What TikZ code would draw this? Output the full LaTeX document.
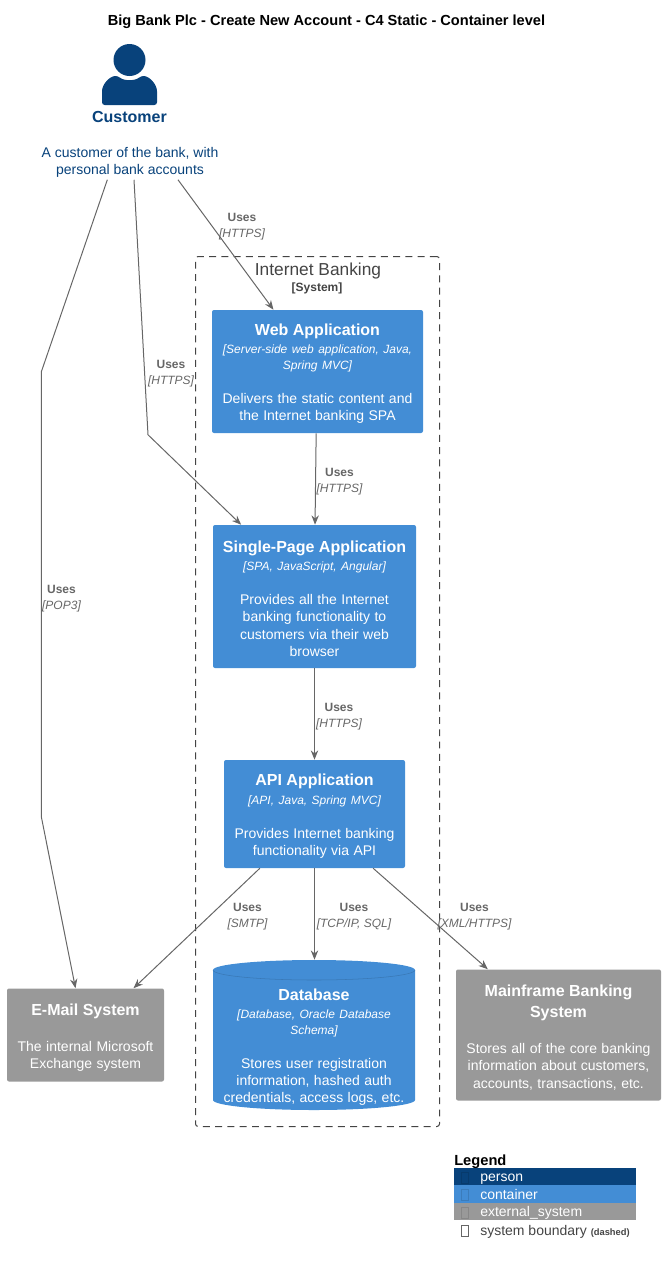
\documentclass[tikz,border=0pt]{standalone}
\usepackage{fontspec}
\setmainfont{Liberation Sans}
\usepackage{tikz}
\usetikzlibrary{positioning,arrows.meta}
\definecolor{personblue}{HTML}{08427B}
\definecolor{containerblue}{HTML}{438DD5}
\definecolor{extgray}{HTML}{999999}
\definecolor{linegray}{HTML}{666666}
\definecolor{boundgray}{HTML}{444444}
\newcommand{\boxtext}[3]{{\fontsize{12}{15}\selectfont\bfseries\rule{0pt}{12.1pt}#1\par}\vspace{2pt}{\fontsize{9}{11.6}\selectfont\itshape #2\par}\vspace{12.5pt}{\fontsize{10.5}{13}\selectfont #3\par}}
\newcommand{\exttext}[2]{{\fontsize{12}{15.5}\selectfont\bfseries\rule{0pt}{12.4pt}#1\par}\vspace{14pt}{\fontsize{10.5}{13}\selectfont #2\par}}
\tikzset{
  boxnode/.style={rectangle,rounded corners=1.5pt,text=white,align=center,inner sep=0pt},
  containernode/.style={boxnode,fill=containerblue},
  extnode/.style={boxnode,fill=extgray},
  uses/.style={-{Stealth[length=7pt,width=5.5pt]},draw=linegray,line width=0.75pt},
  useslabel/.style={text=linegray,align=center,inner sep=0pt,fill=none},
  legendrow/.style={anchor=base west,inner sep=0pt,fill=none,font=\fontsize{10.5}{12}\selectfont}
}
\newcommand{\rellabel}[1]{{\fontsize{9}{10.6}\selectfont\bfseries Uses}\\{\fontsize{9}{10.6}\selectfont\itshape [#1]}}
\begin{document}
\begin{tikzpicture}[x=0.75pt,y=-0.75pt]
  \useasboundingbox (0,0) rectangle (666,1264);
  \node[inner sep=0pt,font=\fontsize{10.95}{12}\selectfont\bfseries](title) at (326.5,22){Big Bank Plc - Create New Account - C4 Static - Container level};

  \fill[personblue] (129.5,60) circle (16);
  \fill[personblue,rounded corners=2pt] (102,105) -- (102,94) .. controls (102,84) and (110,76) .. (118,76) .. controls (124,81) and (135,81) .. (141,76) .. controls (149,76) and (157,84) .. (157,94) -- (157,105) -- cycle;
  \node[inner sep=0pt,text=personblue,font=\fontsize{12}{14}\selectfont\bfseries](customer) at (129.5,117){Customer};
  \node[inner sep=0pt,text=personblue,align=center,minimum height=34*0.75pt,font=\fontsize{10.5}{13.2}\selectfont](customerdesc) at (130,162.5){A customer of the bank, with\\personal bank accounts};

  \node[draw=boundgray,dash pattern=on 5.2pt off 4pt,line width=0.75pt,rounded corners=2pt,minimum width=244*0.75pt,minimum height=870*0.75pt,inner sep=0pt](boundary) at (317.5,691.5){};
  \node[inner sep=0pt,text=boundgray,font=\fontsize{13}{15}\selectfont](boundaryname) at (318,271){Internet Banking};
  \node[inner sep=0pt,text=boundgray,font=\fontsize{9}{11}\selectfont\bfseries](boundarytype) at (317,288){[System]};

  \node[containernode,text width=211*0.75pt,minimum height=123*0.75pt](web) at (317.5,371.5){\boxtext{Web Application}{[Server-side web application, Java,\\Spring MVC]}{Delivers the static content and\\the Internet banking SPA}};
  \node[containernode,text width=203*0.75pt,minimum height=143*0.75pt](spa) at (314.5,596.5){\boxtext{Single-Page Application}{[SPA, JavaScript, Angular]}{Provides all the Internet\\banking functionality to\\customers via their web\\browser}};
  \node[containernode,text width=181*0.75pt,minimum height=108*0.75pt](api) at (314.5,814){\boxtext{API Application}{[API, Java, Spring MVC]}{Provides Internet banking\\functionality via API}};

  \fill[containerblue] (213,970) arc[start angle=180,end angle=360,x radius=101,y radius=10] -- (415,1100) arc[start angle=0,end angle=180,x radius=101,y radius=10] -- cycle;
  \draw[containerblue!85!black,line width=0.4pt] (213,970) arc[start angle=180,end angle=0,x radius=101,y radius=10];
  \node[inner sep=0pt,minimum width=202*0.75pt,minimum height=150*0.75pt](db) at (314.5,1035){};
  \node[align=center,text=white,inner sep=0pt,text width=202*0.75pt](dbtext) at (314,1045){\boxtext{Database}{[Database, Oracle Database\\Schema]}{Stores user registration\\information, hashed auth\\credentials, access logs, etc.}};

  \node[extnode,text width=157*0.75pt,minimum height=93*0.75pt](mail) at (85.5,1035){\exttext{E-Mail System}{The internal Microsoft\\Exchange system}};
  \node[extnode,text width=205*0.75pt,minimum height=131*0.75pt](mainframe) at (558.5,1035){\exttext{Mainframe Banking\\System}{Stores all of the core banking\\information about customers,\\accounts, transactions, etc.}};

  \draw[uses] ([xshift=-17pt]customerdesc.south) -- ++(-66,192) -- ++(0,445) -- ([xshift=-7.5pt]mail.north);
  \draw[uses] ([xshift=3pt]customerdesc.south) -- ++(14,255) -- ([xshift=-55pt]spa.north);
  \draw[uses] ([xshift=36pt]customerdesc.south) -- ([xshift=-33pt]web.north);
  \draw[uses] ([xshift=-1pt]web.south) -- ([xshift=0.4pt]spa.north);
  \draw[uses] (spa.south) -- (api.north);
  \draw[uses] ([xshift=-41pt]api.south) -- ([xshift=36pt]mail.north);
  \draw[uses] (api.south) -- (db.north);
  \draw[uses] ([xshift=44pt]api.south) -- ([xshift=-53pt]mainframe.north);

  \node[useslabel](l1) at (242,227){\rellabel{HTTPS}};
  \node[useslabel](l2) at (171,374){\rellabel{HTTPS}};
  \node[useslabel](l3) at (61.5,599){\rellabel{POP3}};
  \node[useslabel](l4) at (339.5,482){\rellabel{HTTPS}};
  \node[useslabel](l5) at (339,717){\rellabel{HTTPS}};
  \node[useslabel](l6) at (247.5,917){\rellabel{SMTP}};
  \node[useslabel](l7) at (354,917){\rellabel{TCP/IP, SQL}};
  \node[useslabel](l8) at (474.5,917){\rellabel{XML/HTTPS}};

  \node[inner sep=0pt,anchor=base west,font=\fontsize{11}{12}\selectfont\bfseries](legend) at (454,1165){Legend};
  \foreach \rowcol/\rowname/\rowy/\rowtext in {personblue/person/1176.5/person,containerblue/container/1194/container,extgray/external/1211.6/external\_system}{
    \fill[\rowcol] (454,\rowy-8.75) rectangle (636,\rowy+8.75);
    \draw[\rowcol!88!black,line width=0.5pt] (461,\rowy-4.2) rectangle (468,\rowy+6.8);
    \node[legendrow,text=white](\rowname) at (480,\rowy+5.2){\rowtext};
  }
  \draw[linegray,line width=0.5pt] (461,1225.5) rectangle (468,1236.5);
  \node[legendrow,text=boundgray](legendbound) at (480,1235){system boundary {\fontsize{7}{8}\selectfont\bfseries (dashed)}};
\end{tikzpicture}
\end{document}
